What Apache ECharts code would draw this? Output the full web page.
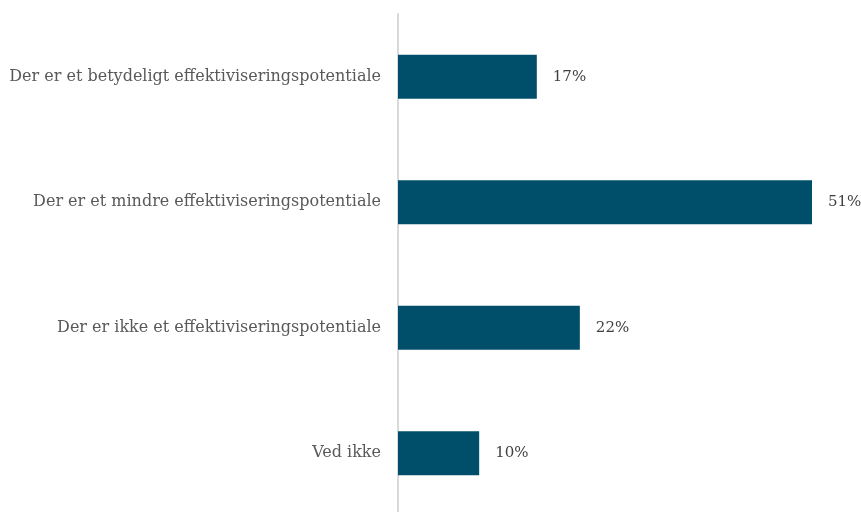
<!DOCTYPE html>
<html><head><meta charset="utf-8">
<script src="https://cdn.jsdelivr.net/npm/echarts@6/dist/echarts.min.js"></script>
<style>html,body{margin:0;padding:0;background:#fff}#c{width:861px;height:512px}</style>
</head><body><div id="c"></div>
<script>
var categories = ["Der er et betydeligt effektiviseringspotentiale","Der er et mindre effektiviseringspotentiale","Der er ikke et effektiviseringspotentiale","Ved ikke"];
var values = [17.1, 51, 22.4, 10];
var chart = echarts.init(document.getElementById('c'));
chart.setOption({
  animation:false,
  grid:{left:398, width:414, top:14, height:502, outerBoundsMode:'none', containLabel:false},
  xAxis:{type:'value', min:0, max:51, show:false},
  yAxis:{type:'category', data:categories, inverse:true,
    axisLine:{show:true, lineStyle:{color:'#d9d9d9', width:2}},
    axisTick:{show:false},
    axisLabel:{color:'#595959', fontFamily:'DejaVu Serif', fontSize:16, margin:17}},
  series:[{type:'bar', data:values, barWidth:44,
    itemStyle:{color:'#004F6A'},
    label:{show:true, position:'right', distance:16,
      formatter:function(p){return Math.round(p.value)+'%';},
      color:'#404040', fontFamily:'DejaVu Serif', fontSize:15}}]
});
</script></body></html>
